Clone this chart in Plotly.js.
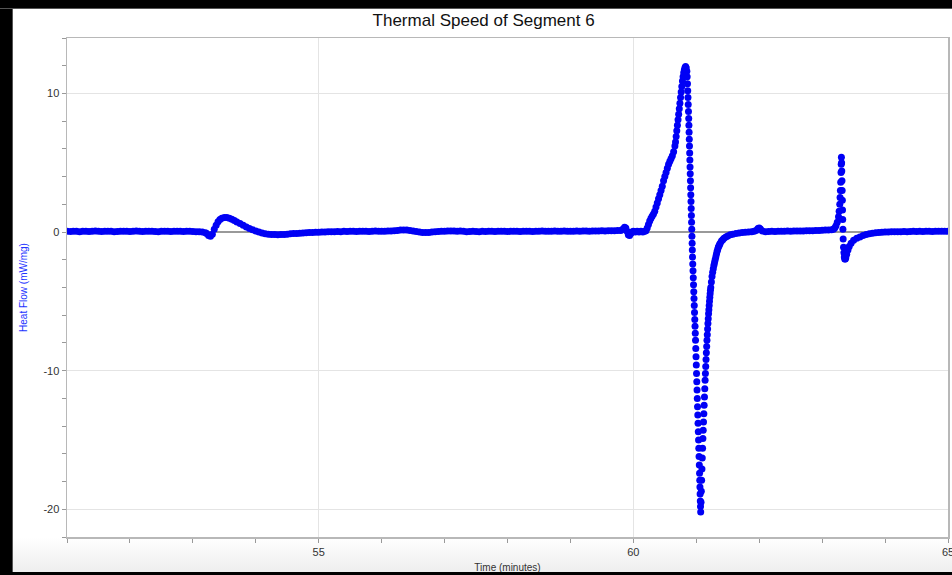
<!DOCTYPE html>
<html>
<head>
<meta charset="utf-8">
<script src="https://cdn.plot.ly/plotly-3.0.1.min.js"></script>
<style>
html,body{margin:0;padding:0;width:952px;height:575px;overflow:hidden;background:#ffffff;}
body{background:linear-gradient(to bottom,#ffffff 0px,#ffffff 538px,#eeeeee 572px);position:relative;font-family:"Liberation Sans",Arial,sans-serif;}
#chart{position:absolute;left:0;top:0;width:952px;height:575px;overflow:hidden;}
.bar{position:absolute;background:#000;z-index:5;}
.cover{position:absolute;background:#fff;z-index:5;}
</style>
</head>
<body>
<div id="chart"></div>
<div class="bar" style="left:0;top:0;width:12px;height:575px;border-right:1px solid #555;"></div>
<div class="bar" style="left:0;top:0;width:952px;height:8px;border-bottom:1px solid #555;"></div>
<div class="bar" style="left:0;top:572px;width:952px;height:3px;"></div>
<div class="cover" style="left:950px;top:9px;width:2px;height:534px;"></div>
<script>
// [time (minutes), heat flow (mW/mg)] pairs
const baselineStart = [
[51.00,0.05],[51.05,0.04],[51.10,0.06],[51.15,0.05],[51.20,0.03],[51.25,0.05],[51.30,0.06],[51.35,0.04],[51.40,0.05],[51.45,0.07],
[51.50,0.05],[51.55,0.04],[51.60,0.05],[51.65,0.06],[51.70,0.05],[51.75,0.03],[51.80,0.04],[51.85,0.06],[51.90,0.05],[51.95,0.05],
[52.00,0.04],[52.05,0.06],[52.10,0.07],[52.15,0.05],[52.20,0.04],[52.25,0.05],[52.30,0.05],[52.35,0.06],[52.40,0.04],[52.45,0.03],
[52.50,0.05],[52.55,0.06],[52.60,0.05],[52.65,0.04],[52.70,0.05],[52.75,0.06],[52.80,0.05],[52.85,0.04],[52.90,0.05],[52.95,0.05],
[53.00,0.04],[53.05,0.03],[53.10,0.02],[53.15,0.0],[53.20,-0.05]
];
const firstBump = [
[53.22,-0.1],[53.25,-0.25],[53.28,-0.3],[53.31,-0.15],[53.34,0.2],[53.37,0.5],[53.40,0.75],[53.43,0.9],[53.46,1.0],[53.50,1.05],
[53.54,1.05],[53.58,1.0],[53.62,0.92],[53.66,0.83],[53.70,0.73],[53.75,0.61],[53.80,0.49],[53.85,0.37],[53.90,0.26],[53.95,0.16],
[54.00,0.07],[54.05,0.0],[54.10,-0.07],[54.15,-0.12],[54.20,-0.15],[54.25,-0.17],[54.30,-0.18],[54.35,-0.19],[54.40,-0.18],[54.45,-0.17],
[54.50,-0.15],[54.55,-0.13],[54.60,-0.11],[54.65,-0.1],[54.70,-0.08],[54.75,-0.07],[54.80,-0.05],[54.85,-0.04],[54.90,-0.03],[54.95,-0.02],
[55.00,-0.01],[55.05,0.0],[55.10,0.01],[55.15,0.02],[55.20,0.03]
];
const baselineMiddle = [
[55.25,0.03],[55.30,0.04],[55.35,0.03],[55.40,0.05],[55.45,0.04],[55.50,0.05],[55.55,0.06],[55.60,0.04],[55.65,0.05],[55.70,0.06],
[55.75,0.05],[55.80,0.04],[55.85,0.06],[55.90,0.07],[55.95,0.05],[56.00,0.06],[56.05,0.05],[56.10,0.07],[56.15,0.08],[56.20,0.1],
[56.25,0.12],[56.30,0.14],[56.35,0.15],[56.40,0.14],[56.45,0.12],[56.50,0.08],[56.55,0.04],[56.60,0.0],[56.65,-0.03],[56.70,-0.04],
[56.75,-0.03],[56.80,0.0],[56.85,0.02],[56.90,0.04],[56.95,0.05],[57.00,0.06],[57.05,0.07],[57.10,0.08],[57.15,0.07],[57.20,0.06],
[57.25,0.08],[57.30,0.05],[57.35,0.03],[57.40,0.04],[57.45,0.05],[57.50,0.04],[57.55,0.03],[57.60,0.05],[57.65,0.04],[57.70,0.06],
[57.75,0.05],[57.80,0.04],[57.85,0.05],[57.90,0.06],[57.95,0.05],[58.00,0.04],[58.05,0.05],[58.10,0.06],[58.15,0.05],[58.20,0.04],
[58.25,0.05],[58.30,0.06],[58.35,0.05],[58.40,0.04],[58.45,0.06],[58.50,0.05],[58.55,0.07],[58.60,0.06],[58.65,0.05],[58.70,0.06],
[58.75,0.07],[58.80,0.06],[58.85,0.05],[58.90,0.07],[58.95,0.06],[59.00,0.05],[59.05,0.06],[59.10,0.07],[59.15,0.06],[59.20,0.08],
[59.25,0.07],[59.30,0.06],[59.35,0.08],[59.40,0.07],[59.45,0.08],[59.50,0.09],[59.55,0.08],[59.60,0.09],[59.65,0.1],[59.70,0.1],
[59.75,0.12]
];
const preRise = [
[59.80,0.12],[59.83,0.2],[59.86,0.35],[59.88,0.3],[59.90,0.05],[59.92,-0.2],[59.94,-0.25],[59.96,-0.1],[59.98,0.0],[60.00,0.05],
[60.03,0.0],[60.06,0.05],[60.09,0.0],[60.12,0.05],[60.15,0.0],[60.18,0.05]
];
const mainRise = [
[60.20,0.1],[60.22,0.3],[60.24,0.55],[60.26,0.8],[60.28,1.0],[60.30,1.15],[60.32,1.3],[60.34,1.5],[60.36,1.8],[60.38,2.1],
[60.40,2.4],[60.42,2.7],[60.44,3.0],[60.46,3.3],[60.48,3.7],[60.50,4.0],[60.52,4.3],[60.54,4.6],[60.56,4.9],[60.58,5.1],
[60.60,5.3],[60.62,5.5],[60.64,5.8],[60.66,6.2],[60.67,6.5],[60.68,6.9],[60.69,7.3],[60.70,7.7],[60.71,8.1],[60.72,8.5],
[60.73,8.9],[60.74,9.3],[60.75,9.7],[60.76,10.1],[60.77,10.5],[60.78,10.9],[60.79,11.2],[60.80,11.5],[60.81,11.7],[60.82,11.85],
[60.83,11.95],[60.84,11.85]
];
const mainDrop = [
[60.850,11.6],[60.855,11.2],[60.860,10.7],[60.864,10.2],[60.868,9.7],[60.872,9.2],[60.876,8.7],[60.880,8.2],[60.883,7.7],[60.886,7.2],
[60.889,6.7],[60.892,6.2],[60.895,5.7],[60.898,5.2],[60.901,4.7],[60.904,4.2],[60.907,3.7],[60.910,3.2],[60.913,2.7],[60.916,2.2],
[60.919,1.7],[60.922,1.2],[60.925,0.7],[60.928,0.2],[60.931,-0.3],[60.934,-0.8],[60.937,-1.3],[60.940,-1.8],[60.944,-2.3],[60.948,-2.8],
[60.952,-3.3],[60.956,-3.8],[60.960,-4.3],[60.964,-4.8],[60.968,-5.3],[60.972,-5.8],[60.976,-6.3],[60.980,-6.8],[60.984,-7.3],[60.988,-7.8],
[60.992,-8.4],[60.996,-9.0],[61.000,-9.6],[61.004,-10.2],[61.008,-10.8],[61.012,-11.4],[61.016,-12.0],[61.020,-12.6],[61.024,-13.2],[61.028,-13.8],
[61.032,-14.4],[61.036,-15.0],[61.040,-15.6],[61.044,-16.2],[61.048,-16.8],[61.052,-17.4],[61.055,-17.9],[61.058,-18.4],[61.061,-18.9],[61.064,-19.4],
[61.067,-19.8],[61.070,-20.2]
];
const recovery = [
[61.075,-19.5],[61.080,-18.7],[61.085,-17.9],[61.090,-17.1],[61.095,-16.3],[61.100,-15.6],[61.105,-14.9],[61.110,-14.3],[61.115,-13.7],[61.120,-13.1],
[61.125,-12.5],[61.130,-11.9],[61.135,-11.3],[61.140,-10.7],[61.145,-10.2],[61.150,-9.7],[61.155,-9.2],[61.160,-8.7],[61.165,-8.25],[61.170,-7.8],
[61.175,-7.4],[61.180,-7.0],[61.185,-6.6],[61.190,-6.25],[61.195,-5.9],[61.200,-5.6],[61.205,-5.3],[61.210,-5.0],[61.215,-4.7],[61.220,-4.45],
[61.225,-4.2],[61.230,-4.0],[61.240,-3.6],[61.250,-3.2],[61.260,-2.9],[61.270,-2.65],[61.280,-2.4],[61.290,-2.2],[61.300,-2.0],[61.31,-1.8],
[61.32,-1.6],[61.33,-1.4],[61.34,-1.25],[61.35,-1.1],[61.36,-1.0],[61.37,-0.9],[61.38,-0.8],[61.40,-0.65],[61.42,-0.55],[61.44,-0.45],
[61.47,-0.35],[61.50,-0.28],[61.54,-0.2],[61.58,-0.15],[61.63,-0.1],[61.68,-0.07],[61.73,-0.04],[61.78,-0.02],[61.83,0.0],[61.88,0.02],
[61.92,0.05],[61.95,0.12],[61.98,0.25],[62.00,0.3],[62.02,0.22],[62.05,0.08]
];
const baselineLate = [
[62.10,0.03],[62.15,0.04],[62.20,0.05],[62.25,0.04],[62.30,0.06],[62.35,0.05],[62.40,0.06],[62.45,0.07],[62.50,0.06],[62.55,0.07],
[62.60,0.08],[62.65,0.07],[62.70,0.08],[62.75,0.09],[62.80,0.1],[62.85,0.1],[62.90,0.11],[62.95,0.12],[63.00,0.13],[63.05,0.14],
[63.10,0.15]
];
const secondSpike = [
[63.15,0.17],[63.18,0.2],[63.20,0.3],[63.22,0.45],[63.24,0.7],[63.26,1.1],[63.27,1.5],[63.28,2.0],[63.285,2.5],[63.29,3.0],
[63.295,3.6],[63.30,4.3],[63.303,4.9],[63.306,5.4],[63.309,5.0],[63.312,4.4],[63.315,3.7],[63.318,3.0],[63.321,2.3],[63.324,1.6],
[63.327,0.9],[63.330,0.2],[63.334,-0.5],[63.340,-1.1],[63.346,-1.5],[63.352,-1.8],[63.360,-1.95],[63.368,-1.95],[63.376,-1.85],[63.39,-1.6],
[63.41,-1.3],[63.43,-1.05],[63.46,-0.8],[63.50,-0.6],[63.55,-0.45],[63.60,-0.35],[63.65,-0.25],[63.70,-0.18],[63.75,-0.12],[63.80,-0.08],
[63.85,-0.05],[63.90,-0.03],[63.95,-0.01]
];
const baselineEnd = [
[64.00,0.0],[64.05,0.01],[64.10,0.02],[64.15,0.02],[64.20,0.03],[64.25,0.03],[64.30,0.04],[64.35,0.03],[64.40,0.04],[64.45,0.05],
[64.50,0.04],[64.55,0.05],[64.60,0.04],[64.65,0.05],[64.70,0.05],[64.75,0.04],[64.80,0.05],[64.85,0.06],[64.90,0.05],[64.95,0.05],
[65.00,0.05]
];

const xTickVals = [55, 60, 65];
const xTickText = ['55', '60', '65'];
const yTickVals = [-20, -10, 0, 10];
const yTickText = ['-20', '-10', '0', '10'];

const allPairs = [].concat(baselineStart, firstBump, baselineMiddle, preRise, mainRise, mainDrop, recovery, baselineLate, secondSpike, baselineEnd);
const timeMin = allPairs.map(p => p[0]);
const heatFlow = allPairs.map(p => p[1]);

const trace = {
  x: timeMin,
  y: heatFlow,
  type: 'scatter',
  mode: 'markers',
  marker: {color: 'rgb(0,0,245)', size: 7, line: {width: 0}},
  hoverinfo: 'skip',
  showlegend: false
};

const axisFont = {family: '"Liberation Sans", Arial, sans-serif', size: 11, color: '#333'};

const layout = {
  width: 952,
  height: 575,
  margin: {l: 67, r: 4, t: 38, b: 38, autoexpand: false},
  paper_bgcolor: 'rgba(0,0,0,0)',
  plot_bgcolor: '#ffffff',
  showlegend: false,
  title: {
    text: 'Thermal Speed of Segment 6',
    font: {family: '"Liberation Sans", Arial, sans-serif', size: 17, color: '#111'},
    x: 0.508, xref: 'container', xanchor: 'center',
    y: 0.965, yref: 'container', yanchor: 'middle'
  },
  xaxis: {
    range: [51, 65],
    tickmode: 'array', tickvals: xTickVals, ticktext: xTickText,
    ticks: 'outside', ticklen: 4, tickcolor: '#999', tickwidth: 1,
    minor: {dtick: 1, tick0: 51, ticks: 'outside', ticklen: 4, tickcolor: '#999', showgrid: false},
    showgrid: true, gridcolor: '#e4e4e4', gridwidth: 1,
    zeroline: false,
    showline: true, linecolor: '#b8b8b8', linewidth: 1.5, mirror: true,
    tickfont: axisFont,
    ticklabeloverflow: 'allow',
    automargin: false,
    title: {text: 'Time (minutes)', font: {family: '"Liberation Sans", Arial, sans-serif', size: 10, color: '#333'}, standoff: 7},
    fixedrange: true
  },
  yaxis: {
    range: [-22, 14],
    tickmode: 'array', tickvals: yTickVals, ticktext: yTickText,
    ticks: 'outside', ticklen: 4, tickcolor: '#999', tickwidth: 1,
    minor: {dtick: 2, tick0: 0, ticks: 'outside', ticklen: 4, tickcolor: '#999', showgrid: false},
    showgrid: true, gridcolor: '#e4e4e4', gridwidth: 1,
    zeroline: true, zerolinecolor: '#999', zerolinewidth: 2,
    showline: true, linecolor: '#b8b8b8', linewidth: 1.5, mirror: true,
    tickfont: axisFont,
    automargin: false,
    title: {text: 'Heat Flow (mW/mg)', font: {family: '"Liberation Sans", Arial, sans-serif', size: 10, color: '#2233ff'}, standoff: 14},
    fixedrange: true
  }
};

Plotly.newPlot('chart', [trace], layout, {displayModeBar: false, staticPlot: true});
</script>
</body>
</html>
